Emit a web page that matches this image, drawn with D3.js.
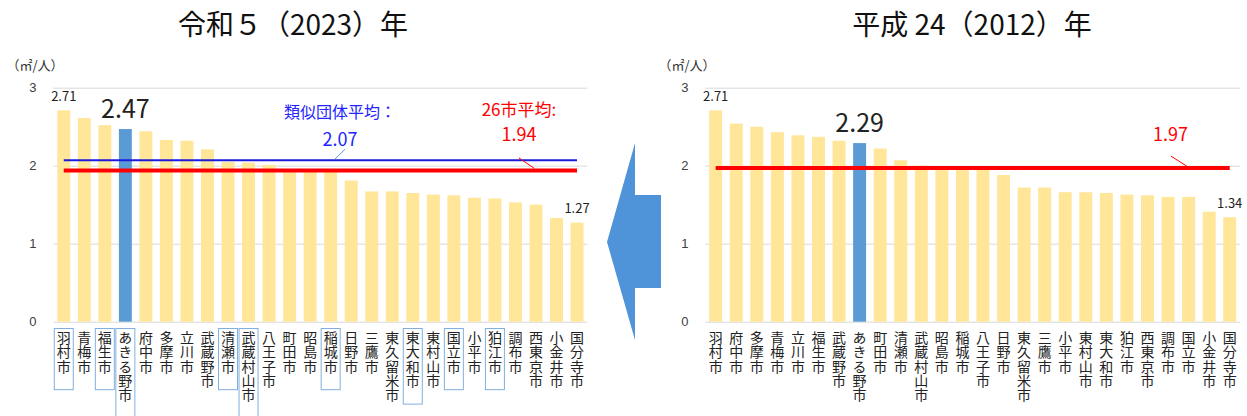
<!DOCTYPE html>
<html lang="ja">
<head>
  <meta charset="UTF-8">
  <title>一人当たり面積 比較</title>
  <script src="https://d3js.org/d3.v7.min.js"></script>
  <style>
    body, html {
      margin: 0;
      padding: 0;
      overflow: hidden;
      background: #fff;
    }
    svg {
      display: block;
      font-family: "Noto Sans CJK JP", "Noto Sans", sans-serif;
    }
    .tick text {
      font-size: 13px;
      fill: #404040;
    }
    .tick line {
      stroke: #d9d9d9;
    }
    .city {
      writing-mode: vertical-rl;
      letter-spacing: 0.4px;
    }
  </style>
</head>
<body>
  <svg width="1247" height="416"></svg>
  <script>
    // 令和5（2023）年
    const cities2023 = ['羽村市', '青梅市', '福生市', 'あきる野市', '府中市', '多摩市', '立川市', '武蔵野市',
      '清瀬市', '武蔵村山市', '八王子市', '町田市', '昭島市', '稲城市', '日野市', '三鷹市', '東久留米市',
      '東大和市', '東村山市', '国立市', '小平市', '狛江市', '調布市', '西東京市', '小金井市', '国分寺市'];
    const values2023 = [2.71, 2.61, 2.52, 2.47, 2.44, 2.33, 2.32, 2.21, 2.05, 2.04, 2.01, 1.94, 1.93,
      1.92, 1.81, 1.67, 1.67, 1.65, 1.63, 1.62, 1.59, 1.58, 1.53, 1.50, 1.33, 1.27];
    // 類似団体（枠付き）
    const boxed2023 = ['羽村市', '福生市', 'あきる野市', '清瀬市', '武蔵村山市', '稲城市', '東大和市', '国立市', '狛江市'];
    const avg26_2023 = 1.94;
    const avgSimilar2023 = 2.07;

    // 平成24（2012）年
    const cities2012 = ['羽村市', '府中市', '多摩市', '青梅市', '立川市', '福生市', '武蔵野市', 'あきる野市',
      '町田市', '清瀬市', '武蔵村山市', '昭島市', '稲城市', '八王子市', '日野市', '東久留米市', '三鷹市',
      '小平市', '東村山市', '東大和市', '狛江市', '西東京市', '調布市', '国立市', '小金井市', '国分寺市'];
    const values2012 = [2.71, 2.54, 2.50, 2.43, 2.39, 2.37, 2.32, 2.29, 2.22, 2.07, 2.00, 1.96, 1.95,
      1.95, 1.88, 1.72, 1.72, 1.66, 1.66, 1.65, 1.63, 1.62, 1.60, 1.60, 1.41, 1.34];
    const avg26_2012 = 1.97;

    const yTicks = [0, 1, 2, 3];
    const highlight = 'あきる野市';

    const svg = d3.select('svg');

    function drawPanel(opts) {
      const g = svg.append('g');
      const data = opts.cities.map((c, i) => ({ city: c, value: opts.values[i] }));

      const x = d3.scaleBand()
        .domain(opts.cities)
        .range([opts.x0, opts.x1])
        .paddingInner(0.37)
        .paddingOuter(0.185);
      const y = d3.scaleLinear().domain([0, 3]).range([321.7, 87.7]);

      // center of bar at (possibly fractional) index
      const cx = (f) => x(opts.cities[0]) + x.bandwidth() / 2 + f * x.step();

      // title
      g.append('text')
        .attr('x', opts.titleX)
        .attr('y', 23)
        .attr('text-anchor', 'middle')
        .attr('dominant-baseline', 'central')
        .attr('font-size', 28)
        .attr('fill', '#111')
        .text(opts.title);

      // unit
      g.append('text')
        .attr('x', opts.x0 - 47)
        .attr('y', 64)
        .attr('dominant-baseline', 'central')
        .attr('font-size', 13)
        .attr('fill', '#333')
        .text('（㎡/人）');

      // y axis + gridlines
      const yAxis = d3.axisLeft(y)
        .tickValues(yTicks)
        .tickFormat(d3.format('d'))
        .tickSize(-(opts.x1 - opts.x0))
        .tickPadding(17);
      g.append('g')
        .attr('transform', `translate(${opts.x0},0)`)
        .call(yAxis)
        .call((a) => a.select('.domain').remove());

      // bars
      g.append('g')
        .selectAll('rect')
        .data(data)
        .join('rect')
        .attr('x', (d) => x(d.city))
        .attr('width', x.bandwidth())
        .attr('y', (d) => y(d.value))
        .attr('height', (d) => y(0) - y(d.value))
        .attr('fill', (d) => (d.city === highlight ? '#5b9bd5' : '#ffe699'));

      // average lines
      opts.lines.forEach((ln) => {
        g.append('line')
          .attr('x1', cx(0))
          .attr('x2', cx(opts.cities.length - 1))
          .attr('y1', y(ln.value))
          .attr('y2', y(ln.value))
          .attr('stroke', ln.color)
          .attr('stroke-width', ln.width);

        const yl = y(ln.value);
        g.append('line')
          .attr('x1', cx(ln.leader[0]))
          .attr('y1', yl + ln.leaderY[0])
          .attr('x2', cx(ln.leader[1]))
          .attr('y2', yl + ln.leaderY[1])
          .attr('stroke', ln.leaderColor)
          .attr('stroke-width', 1);

        if (ln.label) {
          g.append('text')
            .attr('x', cx(ln.labelAt))
            .attr('y', yl + ln.labelDy)
            .attr('text-anchor', 'middle')
            .attr('dominant-baseline', 'central')
            .attr('font-size', ln.labelSize)
            .attr('fill', ln.textColor)
            .text(ln.label);
        }
        g.append('text')
          .attr('x', cx(ln.labelAt))
          .attr('y', yl + ln.valueDy)
          .attr('text-anchor', 'middle')
          .attr('dominant-baseline', 'central')
          .attr('font-size', 18)
          .attr('fill', ln.textColor)
          .text(ln.value.toFixed(2));
      });

      // value labels: first, highlighted, last
      data.forEach((d, i) => {
        const big = d.city === highlight;
        if (!(big || i === 0 || i === data.length - 1)) return;
        g.append('text')
          .attr('x', x(d.city) + x.bandwidth() / 2)
          .attr('y', y(d.value) - (big ? 22 : 15))
          .attr('text-anchor', 'middle')
          .attr('dominant-baseline', 'central')
          .attr('font-size', big ? 25 : 13)
          .attr('fill', '#222')
          .text(d.value.toFixed(2));
      });

      // vertical city labels
      const pitch = 14.4;
      const lab = g.append('g')
        .selectAll('g')
        .data(data)
        .join('g')
        .attr('transform', (d) => `translate(${x(d.city) + x.bandwidth() / 2},0)`);

      lab.filter((d) => opts.boxed.includes(d.city))
        .append('rect')
        .attr('x', -9.5)
        .attr('y', 328.5)
        .attr('width', 19)
        .attr('height', (d) => 18 + d.city.length * pitch)
        .attr('fill', 'none')
        .attr('stroke', '#80b0e0')
        .attr('stroke-width', 1);

      lab.append('text')
        .attr('class', 'city')
        .attr('x', 0)
        .attr('y', 330.5)
        .attr('font-size', 14)
        .attr('fill', '#222')
        .text((d) => d.city);
    }

    drawPanel({
      title: '令和５（2023）年',
      titleX: 293,
      cities: cities2023,
      values: values2023,
      boxed: boxed2023,
      x0: 53.5,
      x1: 587.3,
      lines: [
        { value: avgSimilar2023, color: '#1a1adc', width: 2, textColor: '#2424ff', leaderColor: '#5b9bd5',
          label: '類似団体平均：', labelSize: 16, labelAt: 13.45, labelDy: -49, valueDy: -22,
          leader: [13.7, 13.2], leaderY: [-11, -1] },
        { value: avg26_2023, color: '#ff0000', width: 4, textColor: '#ff0000', leaderColor: '#ff0000',
          label: '26市平均:', labelSize: 17, labelAt: 22.17, labelDy: -62, valueDy: -37,
          leader: [22.17, 22.92], leaderY: [-12.5, -2] }
      ]
    });

    drawPanel({
      title: '平成 24（2012）年',
      titleX: 972,
      cities: cities2012,
      values: values2012,
      boxed: [],
      x0: 705.4,
      x1: 1240,
      lines: [
        { value: avg26_2012, color: '#ff0000', width: 4, textColor: '#ff0000', leaderColor: '#ff0000',
          label: null, labelAt: 22.12, valueDy: -35.5,
          leader: [22.14, 22.9], leaderY: [-12, -2] }
      ]
    });

    // arrow from 2012 to 2023
    svg.append('polygon')
      .attr('points', [[607, 242], [635, 143], [635, 195], [661, 195], [661, 288], [635, 288], [635, 340]]
        .map((p) => p.join(',')).join(' '))
      .attr('fill', '#4f93d8');
  </script>
</body>
</html>
